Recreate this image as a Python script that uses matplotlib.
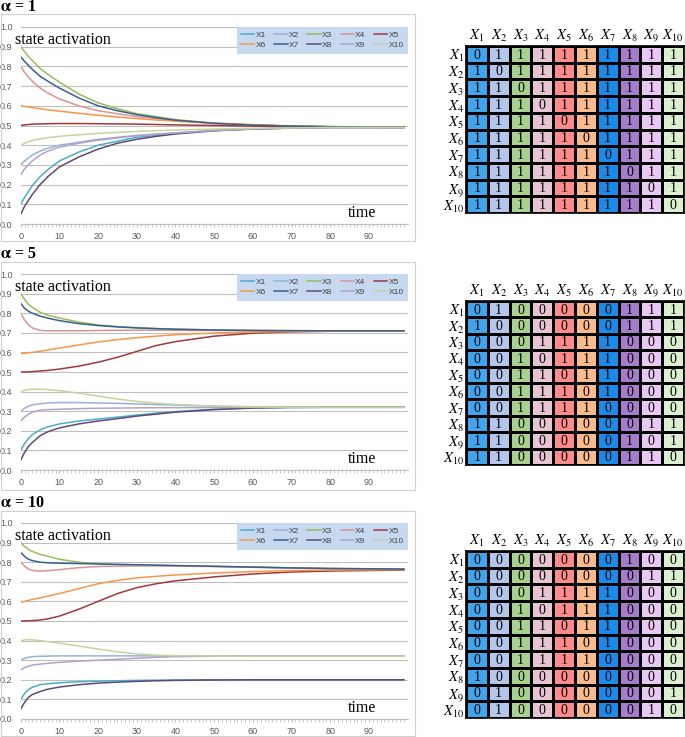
import numpy as np
import matplotlib
matplotlib.use('Agg')
import matplotlib.pyplot as plt
from matplotlib.colors import ListedColormap
from matplotlib.patches import Rectangle

plt.rcParams['mathtext.fontset'] = 'stix'

# series names and colours
names = ['X1', 'X2', 'X3', 'X4', 'X5', 'X6', 'X7', 'X8', 'X9', 'X10']
line_colors = ['#4BACC6', '#95B3D7', '#9BBB59', '#D99594', '#A0393A',
               '#F79646', '#376092', '#60497A', '#B3A2C7', '#C3D69B']
cell_colors = ['#41A5EE', '#B4C6EC', '#A8D18D', '#E6C4D0', '#FF8B8B',
               '#F9BB8C', '#1C8AE8', '#A57DCB', '#E9C8F4', '#DCEFCF']
alphas = [1, 5, 10]

times = [0, 1, 2, 3, 5, 7, 10, 15, 20, 25, 30, 35, 40, 50, 60, 70, 80, 99]

# alpha = 1, one row per X1..X10
alpha1_vals = [
    [0.10, 0.135, 0.165, 0.195, 0.24, 0.275, 0.32, 0.365, 0.40, 0.42, 0.44, 0.45, 0.46, 0.475, 0.483, 0.487, 0.49, 0.49],
    [0.30, 0.32, 0.335, 0.35, 0.37, 0.385, 0.40, 0.415, 0.43, 0.44, 0.45, 0.457, 0.463, 0.475, 0.483, 0.487, 0.49, 0.49],
    [0.90, 0.875, 0.85, 0.83, 0.79, 0.76, 0.72, 0.66, 0.615, 0.585, 0.56, 0.545, 0.53, 0.512, 0.503, 0.497, 0.494, 0.491],
    [0.80, 0.77, 0.745, 0.725, 0.69, 0.665, 0.635, 0.60, 0.575, 0.56, 0.545, 0.535, 0.525, 0.51, 0.502, 0.497, 0.494, 0.491],
    [0.50, 0.503, 0.505, 0.507, 0.508, 0.509, 0.51, 0.51, 0.509, 0.508, 0.507, 0.505, 0.503, 0.50, 0.497, 0.494, 0.492, 0.49],
    [0.60, 0.597, 0.594, 0.591, 0.585, 0.58, 0.573, 0.562, 0.552, 0.543, 0.535, 0.528, 0.522, 0.512, 0.504, 0.498, 0.494, 0.491],
    [0.85, 0.825, 0.805, 0.785, 0.75, 0.725, 0.69, 0.64, 0.60, 0.575, 0.555, 0.54, 0.527, 0.511, 0.502, 0.497, 0.494, 0.491],
    [0.05, 0.09, 0.12, 0.15, 0.20, 0.24, 0.29, 0.34, 0.38, 0.41, 0.43, 0.445, 0.457, 0.473, 0.482, 0.487, 0.49, 0.49],
    [0.25, 0.28, 0.30, 0.32, 0.35, 0.37, 0.39, 0.41, 0.425, 0.437, 0.447, 0.455, 0.462, 0.474, 0.482, 0.487, 0.49, 0.49],
    [0.40, 0.41, 0.418, 0.424, 0.432, 0.438, 0.445, 0.453, 0.46, 0.465, 0.47, 0.474, 0.477, 0.482, 0.486, 0.488, 0.49, 0.49],
]

# alpha = 5
alpha5_vals = [
    [0.10, 0.135, 0.16, 0.18, 0.205, 0.22, 0.235, 0.25, 0.26, 0.27, 0.28, 0.29, 0.298, 0.31, 0.317, 0.32, 0.32, 0.32],
    [0.30, 0.315, 0.325, 0.332, 0.338, 0.342, 0.344, 0.344, 0.342, 0.34, 0.337, 0.334, 0.331, 0.326, 0.322, 0.32, 0.32, 0.32],
    [0.90, 0.87, 0.845, 0.83, 0.805, 0.79, 0.775, 0.755, 0.74, 0.732, 0.726, 0.722, 0.719, 0.715, 0.712, 0.711, 0.71, 0.71],
    [0.80, 0.765, 0.74, 0.725, 0.712, 0.71, 0.71, 0.71, 0.712, 0.713, 0.713, 0.713, 0.712, 0.712, 0.711, 0.71, 0.71, 0.71],
    [0.50, 0.50, 0.501, 0.502, 0.505, 0.508, 0.515, 0.53, 0.55, 0.575, 0.605, 0.635, 0.655, 0.683, 0.698, 0.705, 0.708, 0.709],
    [0.595, 0.596, 0.598, 0.60, 0.606, 0.612, 0.622, 0.638, 0.653, 0.665, 0.675, 0.683, 0.69, 0.699, 0.704, 0.707, 0.708, 0.709],
    [0.85, 0.825, 0.81, 0.80, 0.785, 0.775, 0.762, 0.747, 0.737, 0.73, 0.725, 0.721, 0.718, 0.714, 0.712, 0.711, 0.71, 0.71],
    [0.05, 0.09, 0.12, 0.14, 0.175, 0.195, 0.215, 0.235, 0.25, 0.262, 0.275, 0.285, 0.295, 0.308, 0.316, 0.319, 0.32, 0.32],
    [0.25, 0.27, 0.285, 0.295, 0.305, 0.308, 0.31, 0.313, 0.315, 0.316, 0.317, 0.318, 0.318, 0.319, 0.32, 0.32, 0.32, 0.32],
    [0.40, 0.407, 0.41, 0.412, 0.412, 0.41, 0.405, 0.392, 0.377, 0.362, 0.35, 0.341, 0.334, 0.326, 0.322, 0.32, 0.32, 0.32],
]

# alpha = 10
alpha10_vals = [
    [0.10, 0.13, 0.15, 0.162, 0.175, 0.18, 0.185, 0.19, 0.193, 0.195, 0.197, 0.198, 0.199, 0.20, 0.20, 0.20, 0.20, 0.20],
    [0.30, 0.31, 0.315, 0.318, 0.32, 0.321, 0.322, 0.322, 0.322, 0.322, 0.322, 0.322, 0.322, 0.322, 0.322, 0.322, 0.322, 0.322],
    [0.90, 0.88, 0.865, 0.855, 0.84, 0.83, 0.815, 0.80, 0.792, 0.788, 0.786, 0.784, 0.782, 0.779, 0.775, 0.771, 0.768, 0.765],
    [0.80, 0.78, 0.765, 0.758, 0.755, 0.757, 0.762, 0.772, 0.778, 0.78, 0.781, 0.781, 0.78, 0.778, 0.774, 0.77, 0.767, 0.764],
    [0.50, 0.50, 0.501, 0.502, 0.505, 0.511, 0.525, 0.56, 0.60, 0.64, 0.67, 0.69, 0.705, 0.725, 0.74, 0.75, 0.755, 0.76],
    [0.595, 0.60, 0.605, 0.61, 0.618, 0.627, 0.64, 0.665, 0.69, 0.707, 0.72, 0.728, 0.735, 0.745, 0.752, 0.757, 0.76, 0.762],
    [0.85, 0.83, 0.815, 0.808, 0.80, 0.797, 0.795, 0.793, 0.791, 0.789, 0.787, 0.785, 0.783, 0.779, 0.775, 0.771, 0.768, 0.765],
    [0.05, 0.085, 0.11, 0.125, 0.14, 0.152, 0.163, 0.175, 0.183, 0.188, 0.192, 0.195, 0.197, 0.199, 0.20, 0.20, 0.20, 0.20],
    [0.25, 0.262, 0.27, 0.275, 0.28, 0.284, 0.289, 0.295, 0.30, 0.305, 0.31, 0.315, 0.318, 0.32, 0.32, 0.32, 0.32, 0.32],
    [0.40, 0.403, 0.405, 0.404, 0.40, 0.395, 0.387, 0.372, 0.357, 0.343, 0.332, 0.326, 0.323, 0.321, 0.32, 0.32, 0.32, 0.32],
]

# connection matrices
adj1 = [[0 if i == j else 1 for j in range(10)] for i in range(10)]
adj5 = [
    [0, 1, 0, 0, 0, 0, 0, 1, 1, 1],
    [1, 0, 0, 0, 0, 0, 0, 1, 1, 1],
    [0, 0, 0, 1, 1, 1, 1, 0, 0, 0],
    [0, 0, 1, 0, 1, 1, 1, 0, 0, 0],
    [0, 0, 1, 1, 0, 1, 1, 0, 0, 0],
    [0, 0, 1, 1, 1, 0, 1, 0, 0, 0],
    [0, 0, 1, 1, 1, 1, 0, 0, 0, 0],
    [1, 1, 0, 0, 0, 0, 0, 0, 1, 1],
    [1, 1, 0, 0, 0, 0, 0, 1, 0, 1],
    [1, 1, 0, 0, 0, 0, 0, 1, 1, 0],
]
adj10 = [
    [0, 0, 0, 0, 0, 0, 0, 1, 0, 0],
    [0, 0, 0, 0, 0, 0, 0, 0, 1, 1],
    [0, 0, 0, 1, 1, 1, 1, 0, 0, 0],
    [0, 0, 1, 0, 1, 1, 1, 0, 0, 0],
    [0, 0, 1, 1, 0, 1, 1, 0, 0, 0],
    [0, 0, 1, 1, 1, 0, 1, 0, 0, 0],
    [0, 0, 1, 1, 1, 1, 0, 0, 0, 0],
    [1, 0, 0, 0, 0, 0, 0, 0, 0, 0],
    [0, 1, 0, 0, 0, 0, 0, 0, 0, 1],
    [0, 1, 0, 0, 0, 0, 0, 0, 1, 0],
]

W, H = 685, 737
fig = plt.figure(figsize=(W / 100, H / 100), dpi=100)

# pixel layout of each panel: (y=1.0, y=0.0, frame top, frame bottom, title y, table top, table bottom)
panels = [
    (27, 224, 14, 241, 7, 46, 213),
    (274, 470, 262, 490, 254, 301, 465),
    (523, 719, 511, 736, 503, 551, 718),
]
all_vals = [alpha1_vals, alpha5_vals, alpha10_vals]
all_adj = [adj1, adj5, adj10]

for k in range(3):
    ytop, ybot, ftop, fbot, ytitle, ttop, tbot = panels[k]

    # chart frame (Excel style)
    fig.add_artist(Rectangle((1 / W, 1 - fbot / H), 414 / W, (fbot - ftop) / H,
                             transform=fig.transFigure, fill=False,
                             ec='#D0D0D0', lw=0.8))
    fig.text(0.5 / W, 1 - ytitle / H, r'$\mathbf{\alpha}$ = %d' % alphas[k],
             fontsize=11.5, fontweight='bold', family='Liberation Serif',
             va='center', ha='left')

    ax = fig.add_axes([20.7 / W, 1 - ybot / H, 387 / W, (ybot - ytop) / H])
    lines = []
    for i in range(10):
        ln, = ax.plot(times, all_vals[k][i], color=line_colors[i], lw=1.1,
                      label=names[i])
        lines.append(ln)
    ax.set_xlim(0, 100)
    ax.set_ylim(0, 1)
    ax.set_yticks(np.arange(0, 1.01, 0.1))
    ax.set_yticklabels(['%.1f' % v for v in np.arange(0, 1.01, 0.1)])
    ax.set_xticks(np.arange(0, 91, 10))
    ax.set_xticks(np.arange(0, 100, 1), minor=True)
    ax.grid(axis='y', color='#BFBFBF', lw=0.8)
    ax.set_axisbelow(True)
    for s in ['top', 'right', 'left']:
        ax.spines[s].set_visible(False)
    ax.spines['bottom'].set_color('#BFBFBF')
    ax.tick_params(axis='y', length=0, pad=6, labelsize=6.5, labelcolor='#595959')
    ax.tick_params(axis='x', which='both', length=2.5, color='#BFBFBF',
                   labelsize=6.5, labelcolor='#595959', pad=3)
    for t in ax.get_xticklabels() + ax.get_yticklabels():
        t.set_family('Liberation Sans')

    ax.text(-1.5, 0.935, 'state activation', fontsize=11.5, family='Liberation Serif',
            va='center', ha='left')
    ax.text(84.6, 0.056, 'time', fontsize=11.5, family='Liberation Serif',
            va='center', ha='left')

    order = [0, 5, 1, 6, 2, 7, 3, 8, 4, 9]
    leg = ax.legend([lines[i] for i in order], [names[i] for i in order],
                    ncol=5, loc='upper right', bbox_to_anchor=(1, 1),
                    borderaxespad=0, handlelength=1.6,
                    handletextpad=0.15, columnspacing=1.0, labelspacing=0.3,
                    borderpad=0.5, fancybox=False, framealpha=1,
                    facecolor='#C6D9F1', edgecolor='none',
                    prop={'family': 'Liberation Sans', 'size': 6})
    for t in leg.get_texts():
        t.set_color('#404040')

    # connection table
    tx = fig.add_axes([466 / W, 1 - tbot / H, 218 / W, (tbot - ttop) / H])
    col_idx = np.tile(np.arange(10), (10, 1))
    tx.pcolormesh(col_idx, cmap=ListedColormap(cell_colors), vmin=-0.5, vmax=9.5,
                  edgecolors='black', linewidth=0.9)
    adj = all_adj[k]
    for i in range(10):
        for j in range(10):
            tx.text(j + 0.5, i + 0.55, str(adj[i][j]), ha='center', va='center',
                    fontsize=10, family='Liberation Serif')
    tx.set_xlim(0, 10)
    tx.set_ylim(10, 0)
    labels = [r'$X_{%d}$' % (n + 1) for n in range(10)]
    tx.set_xticks(np.arange(10) + 0.5)
    tx.set_xticklabels(labels, fontsize=10.5)
    tx.set_yticks(np.arange(10) + 0.5)
    tx.set_yticklabels(labels, fontsize=10.5)
    tx.xaxis.tick_top()
    tx.tick_params(length=0, pad=1.5)
    for s in tx.spines.values():
        s.set_linewidth(1.2)

fig.savefig('out.png', dpi=100)
